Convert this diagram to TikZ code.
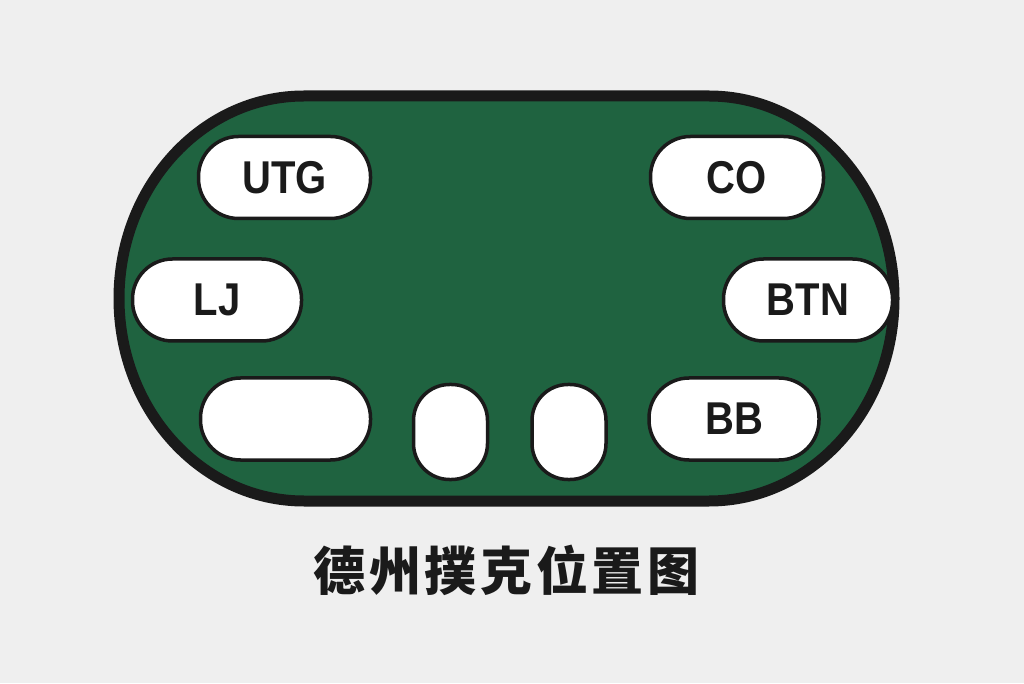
\documentclass[tikz,border=0pt]{standalone}
\usepackage{fontspec}
\setmainfont{Liberation Sans}
\newfontfamily\seatfont[FakeStretch=0.87]{Liberation Sans}
\newfontfamily\cjk[LetterSpace=7]{Noto Sans CJK SC}
\definecolor{bg}{HTML}{EFEFEF}
\definecolor{felt}{HTML}{1F6340}
\definecolor{ink}{HTML}{1A1A1A}
\tikzset{
  seat/.style={draw=ink, line width=3.5pt, fill=white, rectangle, rounded corners=40pt,
    minimum height=82pt, inner sep=0pt, text=ink, font=\seatfont\bfseries\fontsize{46}{46}\selectfont},
  smallseat/.style={draw=ink, line width=3.5pt, fill=white, rectangle, rounded corners=36pt,
    minimum width=74pt, minimum height=95pt, inner sep=0pt},
  tableedge/.style={draw=ink, line width=11pt, fill=felt},
  titletext/.style={text=ink, font=\cjk\bfseries\fontsize{52}{52}\selectfont, inner sep=0pt}
}
\begin{document}
\begin{tikzpicture}[x=1pt,y=1pt]
\fill[bg] (0,0) rectangle (1024,683);
\useasboundingbox (0,0) rectangle (1024,683);
\draw[tableedge] (304,587) -- (709,587)
  arc[start angle=90, end angle=-90, x radius=185, y radius=202.5]
  -- (304,182)
  arc[start angle=270, end angle=90, x radius=185, y radius=202.5] -- cycle;
\node[seat, minimum width=172pt] (utg) at (284.5,505.5) {UTG};
\node[seat, minimum width=173pt] (co) at (737,505.5) {CO};
\node[seat, minimum width=169pt] (lj) at (217,383) {LJ};
\node[seat, minimum width=169pt] (btn) at (808,383) {BTN};
\node[seat, minimum width=170pt] (blank) at (285.5,264) {};
\node[seat, minimum width=170pt] (bb) at (734,264) {BB};
\node[smallseat] (sb1) at (450.5,251) {};
\node[smallseat] (sb2) at (569,251) {};
\node[titletext] (title) at (506.5,113) {德州撲克位置图};
\end{tikzpicture}
\end{document}
